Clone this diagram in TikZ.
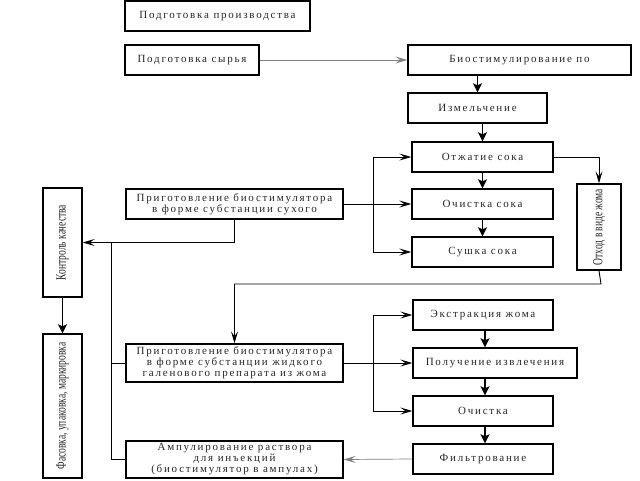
\documentclass[tikz,border=0pt]{standalone}
\usepackage{fontspec}
\usepackage{graphicx}
\setmainfont{Liberation Serif}
\newfontfamily\spacedfont[LetterSpace=16]{Liberation Serif}
\usetikzlibrary{arrows.meta}
\newcommand\myvtext[1]{\rotatebox{90}{\scalebox{0.68}[1]{\fontsize{14}{14}\selectfont #1}}}
\tikzset{
 box/.style={draw, line width=1.4pt, inner sep=0pt, font=\spacedfont\fontsize{11}{11}\selectfont, text=black!85, align=center},
 vbox/.style={draw, line width=1.4pt, inner sep=0pt, text=black!85},
 mainarr/.style={line width=1.6pt, -{Stealth[length=9pt,width=9pt,inset=2pt]}},
 brarr/.style={line width=0.9pt, -{Stealth[length=12pt,width=7pt,inset=5pt]}},
 ln/.style={line width=0.9pt},
 grayarr/.style={line width=0.7pt, draw=black!50, -{Stealth[length=12pt,width=7pt,inset=5pt]}},
}
\begin{document}
\begin{tikzpicture}[x=1pt,y=-1pt]
\useasboundingbox (0,0) rectangle (640,480);
% top
\node[box, minimum width=185, minimum height=30] (prod) at (217.5,16) {Подготовка производства};
\node[box, minimum width=134, minimum height=30] (syr) at (192,60) {Подготовка сырья};
\node[box, minimum width=223, minimum height=30] (bio) at (519.5,60) {Биостимулирование по};
\node[box, minimum width=139, minimum height=30] (izm) at (477.5,108) {Измельчение};
\node[box, minimum width=141, minimum height=30] (otzh) at (482.5,157) {Отжатие сока};
\node[box, minimum width=141, minimum height=30] (och) at (482.5,204) {Очистка сока};
\node[box, minimum width=141, minimum height=30] (sush) at (482.5,252) {Сушка сока};
\node[vbox, minimum width=44, minimum height=86] (othod) at (599,227) {\myvtext{Отход в виде жома}};
\node[box, minimum width=217, minimum height=30] (sukh) at (234.5,204) {Приготовление биостимулятора\\в форме субстанции сухого};
\node[vbox, minimum width=39, minimum height=109] (kontr) at (62.5,242.5) {\myvtext{Контроль качества}};
\node[vbox, minimum width=39, minimum height=144] (fas) at (62.5,406) {\myvtext{Фасовка, упаковка, маркировка}};
\node[box, minimum width=217, minimum height=38] (zhid) at (234.5,363) {Приготовление биостимулятора\\в форме субстанции жидкого\\галенового препарата из жома};
\node[box, minimum width=217, minimum height=37] (amp) at (234.5,459.5) {Ампулирование раствора\\для инъекций\\(биостимулятор в ампулах)};
\node[box, minimum width=140, minimum height=30] (ekstr) at (483,315) {Экстракция жома};
\node[box, minimum width=164, minimum height=30] (poluch) at (495,363) {Получение извлечения};
\node[box, minimum width=140, minimum height=30] (ochist) at (483,411) {Очистка};
\node[box, minimum width=140, minimum height=30] (filtr) at (483,459) {Фильтрование};
% coordinates
\coordinate (br1) at (373,204);
\coordinate (br2) at (373,363);
\coordinate (j1) at (111,242.5);
\coordinate (turn) at (601,284);
% connectors
\draw[grayarr] (syr.east) -- (bio.west);
\draw[mainarr] (izm.north |- bio.south) -- (izm.north);
\draw[mainarr] (otzh.north |- izm.south) -- (otzh.north);
\draw[mainarr] (otzh.south) -- (och.north);
\draw[mainarr] (och.south) -- (sush.north);
\draw[ln] (sukh.east) -- (br1);
\draw[brarr] (br1) |- (otzh.west);
\draw[brarr] (br1) -- (och.west);
\draw[brarr] (br1) |- (sush.west);
\draw[brarr] (otzh.east) -| (othod.north);
\draw[brarr] (othod.south) -- (turn) -| (zhid.north);
\draw[brarr] (sukh.south) |- (kontr.east);
\draw[ln] (j1) |- (amp.west);
\draw[ln] (j1 |- zhid.west) -- (zhid.west);
\draw[mainarr] (kontr.south) -- (fas.north);
\draw[ln] (zhid.east) -- (br2);
\draw[brarr] (br2) |- (ekstr.west);
\draw[brarr] (br2) -- (poluch.west);
\draw[brarr] (br2) |- (ochist.west);
\draw[mainarr] (ekstr.south -| 485,0) -- (poluch.north -| 485,0);
\draw[mainarr] (poluch.south -| 485,0) -- (ochist.north -| 485,0);
\draw[mainarr] (ochist.south -| 485,0) -- (filtr.north -| 485,0);
\draw[grayarr] (filtr.west) -- (amp.east);
\end{tikzpicture}
\end{document}
